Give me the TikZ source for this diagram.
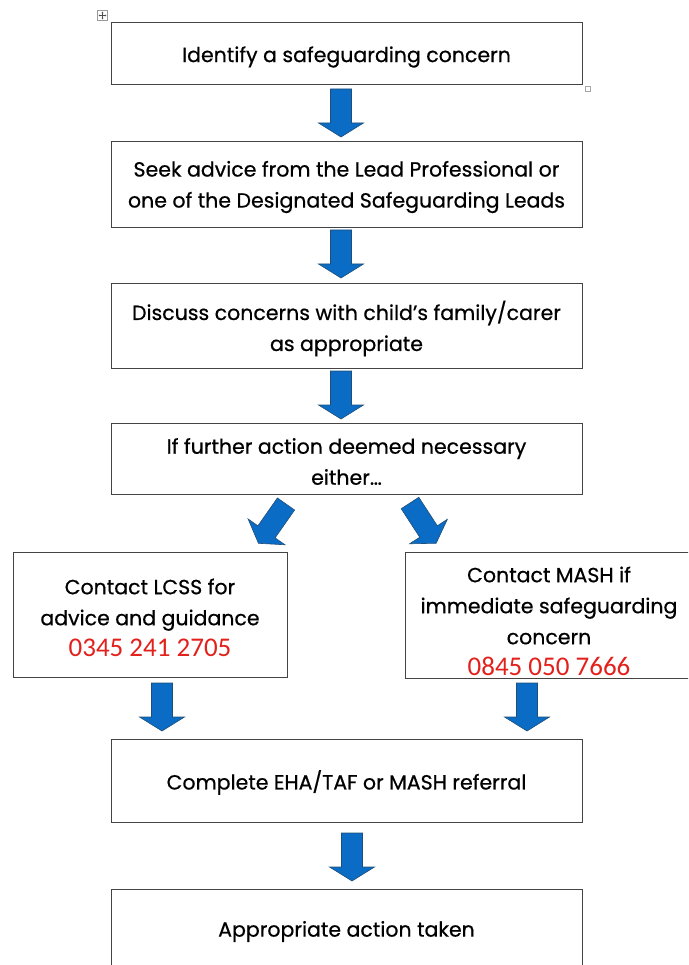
\documentclass[tikz,border=0pt]{standalone}
\usepackage{fontspec}
\usetikzlibrary{arrows.meta}
\setmainfont{Poppins}[FakeBold=0.6]
\newfontfamily\numfont{Carlito}
\definecolor{arrowblue}{HTML}{0A6CC4}
\definecolor{arrowedge}{HTML}{1F4E79}
\definecolor{phonered}{HTML}{E3211C}
\definecolor{boxline}{HTML}{444444}
\newcommand{\phonenum}[1]{{\numfont\fontsize{27}{31}\selectfont\color{phonered}#1}}
\begin{document}
\begin{tikzpicture}[x=1pt,y=-1pt,
  box/.style={draw=boxline, line width=0.9pt, fill=white, inner sep=0pt},
  boxtext/.style={inner sep=0pt, align=center, font=\fontsize{20.5}{31}\selectfont},
  pics/blockarrow/.style={code={
    \filldraw[fill=arrowblue, draw=arrowedge, line width=0.6pt, line join=miter]
      (-10.5,0) -- (10.5,0) -- (10.5,34) -- (22.5,34) -- (0,48) -- (-22.5,34) -- (-10.5,34) -- cycle;
  }}]
\useasboundingbox (0,0) rectangle (688,965);
\begin{scope}
\clip (0,0) rectangle (688,965);
% boxes
\node[box, minimum width=471pt, minimum height=62pt] (b1) at (346.5,53) {};
\node[box, minimum width=471pt, minimum height=86pt] (b2) at (346.5,184) {};
\node[box, minimum width=471pt, minimum height=85pt] (b3) at (346.5,325.5) {};
\node[box, minimum width=471pt, minimum height=71pt] (b4) at (346.5,458.5) {};
\node[box, minimum width=274pt, minimum height=125pt] (b5l) at (150,614.5) {};
\node[box, minimum width=288pt, minimum height=126pt] (b5r) at (549,615) {};
\node[box, minimum width=471pt, minimum height=83pt] (b6) at (346.5,780.5) {};
\node[box, minimum width=471pt, minimum height=81pt] (b7) at (346.5,929.5) {};
% texts
\node[boxtext] (t1) at ([yshift=-4pt]b1.center) {Identify a safeguarding concern};
\node[boxtext] (t2) at ([yshift=-3pt]b2.center)
  {Seek advice from the Lead Professional or\\one of the Designated Safeguarding Leads};
\node[boxtext] (t3) at ([yshift=-3pt]b3.center)
  {Discuss concerns with child's family/carer\\as appropriate};
\node[boxtext] (t4) at ([yshift=-3pt]b4.center)
  {If further action deemed necessary\\either\dots};
\node[boxtext] (t5l) at ([yshift=-3pt]b5l.center)
  {Contact LCSS for\\advice and guidance\\\phonenum{0345 241 2705}};
\node[boxtext] (t5r) at ([yshift=-6pt]b5r.center)
  {Contact MASH if\\immediate safeguarding\\concern\\\phonenum{0845 050 7666}};
\node[boxtext] (t6) at ([yshift=-2pt]b6.center) {Complete EHA/TAF or MASH referral};
\node[boxtext] (t7) at ([yshift=-2pt]b7.center) {Appropriate action taken};
% block arrows
\pic (a1) at (341,89) {blockarrow};
\pic (a2) at (341,230) {blockarrow};
\pic (a3) at (341,371) {blockarrow};
\pic[rotate=-35] (a4l) at (286,504) {blockarrow};
\pic[rotate=33] (a4r) at (410,503) {blockarrow};
\pic (a5l) at (162,683) {blockarrow};
\pic (a5r) at (527,683) {blockarrow};
\pic (a6) at (352,833) {blockarrow};
% table handles
\node[draw=gray!80, fill=white, line width=0.5pt, minimum size=10pt, inner sep=0pt] (mv) at (102.5,15.5) {};
\draw[gray!60!black, line width=0.4pt, -{Stealth[length=1.5pt,width=2pt]}] (mv.center) -- ++(0,-3.8);
\draw[gray!60!black, line width=0.4pt, -{Stealth[length=1.5pt,width=2pt]}] (mv.center) -- ++(0,3.8);
\draw[gray!60!black, line width=0.4pt, -{Stealth[length=1.5pt,width=2pt]}] (mv.center) -- ++(-3.8,0);
\draw[gray!60!black, line width=0.4pt, -{Stealth[length=1.5pt,width=2pt]}] (mv.center) -- ++(3.8,0);
\node[draw=gray!70, fill=white, line width=0.5pt, minimum size=5pt, inner sep=0pt] (rs) at (587.5,88.5) {};
\end{scope}
\end{tikzpicture}
\end{document}
